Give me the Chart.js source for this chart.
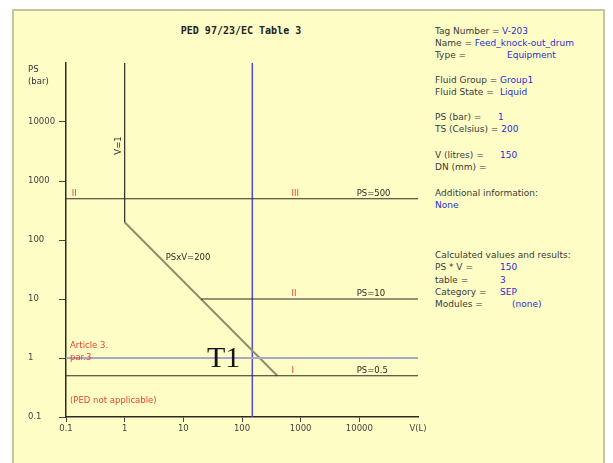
<!doctype html>
<html lang="en">
  <head>
    <meta charset="utf-8">
    <title>PED 97/23/EC Table 3</title>
    <script src="https://cdn.jsdelivr.net/npm/chart.js@4.4.0/dist/chart.umd.min.js"></script>
  </head>

  <style>
    body {
      margin: 0;
      background-color: #ffffff;
      width: 613px;
      height: 463px;
      overflow: hidden;
      font-family: "DejaVu Sans", sans-serif;
    }
    #panel {
      position: absolute;
      left: 12px;
      top: 9px;
      width: 589px;
      height: 470px;
      background-color: #fefdc6;
      border: 2px solid #c6c5a2;
    }
    #wrap {
      position: absolute;
      left: 0;
      top: 0;
      width: 613px;
      height: 463px;
    }
    #title {
      position: absolute;
      left: 141px;
      top: 25px;
      width: 200px;
      text-align: center;
      font-family: "DejaVu Sans Mono", monospace;
      font-weight: bold;
      font-size: 10px;
      color: #222;
    }
    .info {
      position: absolute;
      left: 435px;
      font-size: 9px;
      color: #3a3a3a;
      white-space: nowrap;
    }
    .info b {
      position: absolute;
      font-weight: normal;
      color: #2c2cd0;
    }
    .info i {
      font-style: normal;
      color: #2c2cd0;
    }
  </style>

  <body>
    <div id="panel"></div>
    <div id="title">PED 97/23/EC Table 3</div>

    <!-- equipment data -->
    <div class="info" style="top:26px">Tag Number =<b style="left:67px">V-203</b></div>
    <div class="info" style="top:38px">Name = <i>Feed_knock-out_drum</i></div>
    <div class="info" style="top:50px">Type =<b style="left:72px">Equipment</b></div>
    <div class="info" style="top:75px">Fluid Group =<b style="left:65px">Group1</b></div>
    <div class="info" style="top:87px">Fluid State =<b style="left:65px">Liquid</b></div>
    <div class="info" style="top:112px">PS (bar) =<b style="left:63px">1</b></div>
    <div class="info" style="top:124px">TS (Celsius) = <i>200</i></div>
    <div class="info" style="top:150px">V (litres) =<b style="left:65px">150</b></div>
    <div class="info" style="top:162px">DN (mm) =</div>
    <div class="info" style="top:188px">Additional information:</div>
    <div class="info" style="top:200px"><b style="left:0">None</b></div>
    <div class="info" style="top:250px">Calculated values and results:</div>
    <div class="info" style="top:262px">PS * V =<b style="left:65px">150</b></div>
    <div class="info" style="top:275px">table =<b style="left:65px">3</b></div>
    <div class="info" style="top:287px">Category =<b style="left:65px">SEP</b></div>
    <div class="info" style="top:299px">Modules =<b style="left:77px">(none)</b></div>

    <div id="wrap">
      <canvas id="pedChart" width="613" height="463"></canvas>
    </div>
  </body>

  <script>
    // axes
    var xTicks = [0.1, 1, 10, 100, 1000, 10000, 100000];
    var xTickLabels = ['0.1', '1', '10', '100', '1000', '10000', 'V(L)'];
    var yTicks = [0.1, 1, 10, 100, 1000, 10000, 100000];
    var yTickLabels = ['0.1', '1', '10', '100', '1000', '10000', ''];

    // limit lines of table 3, end points as V (litres) and PS (bar)
    var v1V = [1, 1];
    var v1PS = [100000, 200];
    var psv200V = [1, 400];
    var psv200PS = [200, 0.5];
    var ps500V = [0.1, 100000];
    var ps500PS = [500, 500];
    var ps10V = [20, 100000];
    var ps10PS = [10, 10];
    var ps05V = [0.1, 100000];
    var ps05PS = [0.5, 0.5];

    // the equipment (V = 150 L, PS = 1 bar)
    var equipV = 150;
    var equipPS = 1;
    var axisMinV = 0.1, axisMaxV = 100000;
    var axisMinPS = 0.1, axisMaxPS = 100000;

    // category labels and limit names
    var zoneText = ['II', 'III', 'II', 'I'];
    var zoneV = [0.125, 700, 700, 700];
    var zonePS = [500, 500, 10, 0.5];
    var limitText = ['PS=500', 'PS=10', 'PS=0.5'];
    var limitV = [9000, 9000, 9000];
    var limitPS = [500, 10, 0.5];

    var red = '#e8452c';
    var ink = '#2b2b22';

    function pts(xs, ys) {
      let out = [];
      for (let i in xs) {
        out.push({x: xs[i], y: ys[i]});
      }
      return out;
    }

    function line(xs, ys, color, width) {
      return {
        data: pts(xs, ys),
        showLine: true,
        borderColor: color,
        backgroundColor: color,
        borderWidth: width,
        pointRadius: 0,
        clip: false
      };
    }

    const textPlugin = {
      id: 'pedText',
      afterDatasetsDraw(chart) {
        const ctx = chart.ctx;
        const xs = chart.scales.x;
        const ys = chart.scales.y;
        ctx.save();
        ctx.font = '8.5px "DejaVu Sans"';
        ctx.textBaseline = 'bottom';
        ctx.textAlign = 'left';

        ctx.fillStyle = red;
        for (let i in zoneText) {
          ctx.fillText(zoneText[i], xs.getPixelForValue(zoneV[i]), ys.getPixelForValue(zonePS[i]) - 1);
        }
        ctx.fillStyle = ink;
        for (let i in limitText) {
          ctx.fillText(limitText[i], xs.getPixelForValue(limitV[i]), ys.getPixelForValue(limitPS[i]) - 1);
        }

        // PS x V = 200 label next to the slope
        ctx.textBaseline = 'middle';
        ctx.fillText('PSxV=200', xs.getPixelForValue(5), ys.getPixelForValue(50));

        // V = 1 label, rotated along the vertical line
        ctx.save();
        ctx.translate(xs.getPixelForValue(0.8), ys.getPixelForValue(4000));
        ctx.rotate(-Math.PI / 2);
        ctx.textAlign = 'center';
        ctx.fillText('V=1', 0, 0);
        ctx.restore();

        // red notes at the bottom left
        ctx.fillStyle = red;
        ctx.fillText('Article 3.', xs.getPixelForValue(0.117), ys.getPixelForValue(1.6));
        ctx.fillText('par.3', xs.getPixelForValue(0.117), ys.getPixelForValue(1));
        ctx.fillText('(PED not applicable)', xs.getPixelForValue(0.117), ys.getPixelForValue(0.19));

        // marker of the equipment
        ctx.fillStyle = '#141414';
        ctx.font = '30px "Liberation Serif"';
        ctx.textAlign = 'right';
        ctx.textBaseline = 'alphabetic';
        ctx.fillText('T1', xs.getPixelForValue(equipV) - 12, ys.getPixelForValue(equipPS) + 9);

        // y axis title above the ticks
        ctx.fillStyle = '#333';
        ctx.font = '8.5px "DejaVu Sans"';
        ctx.textAlign = 'left';
        ctx.fillText('PS', 28, chart.chartArea.top + 9);
        ctx.fillText('(bar)', 28, chart.chartArea.top + 21);
        ctx.restore();
      }
    };

    function tickColor(c) {
      return c.tick && c.tick.value === 100000 ? 'rgba(0,0,0,0)' : '#444';
    }

    const config = {
      type: 'scatter',
      data: {
        datasets: [
          line(ps05V, ps05PS, ink, 1.2),
          line([axisMinV, axisMaxV], [equipPS, equipPS], '#a9a8cc', 2),
          line(ps500V, ps500PS, ink, 1.2),
          line(ps10V, ps10PS, ink, 1.2),
          line(v1V, v1PS, ink, 1.2),
          line(psv200V, psv200PS, '#8f8e6c', 2),
          line([equipV, equipV], [axisMinPS, axisMaxPS], '#4d4dd2', 1.5)
        ]
      },
      options: {
        responsive: false,
        animation: false,
        layout: {
          padding: {left: 28, right: 195, top: 63, bottom: 0}
        },
        plugins: {
          legend: {display: false},
          tooltip: {enabled: false}
        },
        scales: {
          x: {
            type: 'logarithmic',
            min: axisMinV,
            max: axisMaxV,
            afterBuildTicks: function(scale) {
              scale.ticks = xTicks.map(v => ({value: v}));
            },
            afterFit: function(scale) {
              scale.height = 46;
            },
            ticks: {
              autoSkip: false,
              maxRotation: 0,
              padding: 2,
              color: '#444',
              font: {family: 'DejaVu Sans', size: 8.5},
              callback: function(value) {
                return xTickLabels[xTicks.indexOf(value)];
              }
            },
            grid: {
              drawOnChartArea: false,
              tickLength: 5,
              color: tickColor
            },
            border: {display: true, color: ink, width: 1.5}
          },
          y: {
            type: 'logarithmic',
            min: axisMinPS,
            max: axisMaxPS,
            afterBuildTicks: function(scale) {
              scale.ticks = yTicks.map(v => ({value: v}));
            },
            afterFit: function(scale) {
              scale.width = 38;
            },
            ticks: {
              autoSkip: false,
              crossAlign: 'far',
              color: '#444',
              font: {family: 'DejaVu Sans', size: 8.5},
              callback: function(value) {
                return yTickLabels[yTicks.indexOf(value)];
              }
            },
            grid: {
              drawOnChartArea: false,
              tickLength: 7,
              color: tickColor
            },
            border: {display: true, color: ink, width: 1.5}
          }
        }
      },
      plugins: [textPlugin]
    };

    new Chart(document.getElementById('pedChart'), config);
  </script>
</html>
